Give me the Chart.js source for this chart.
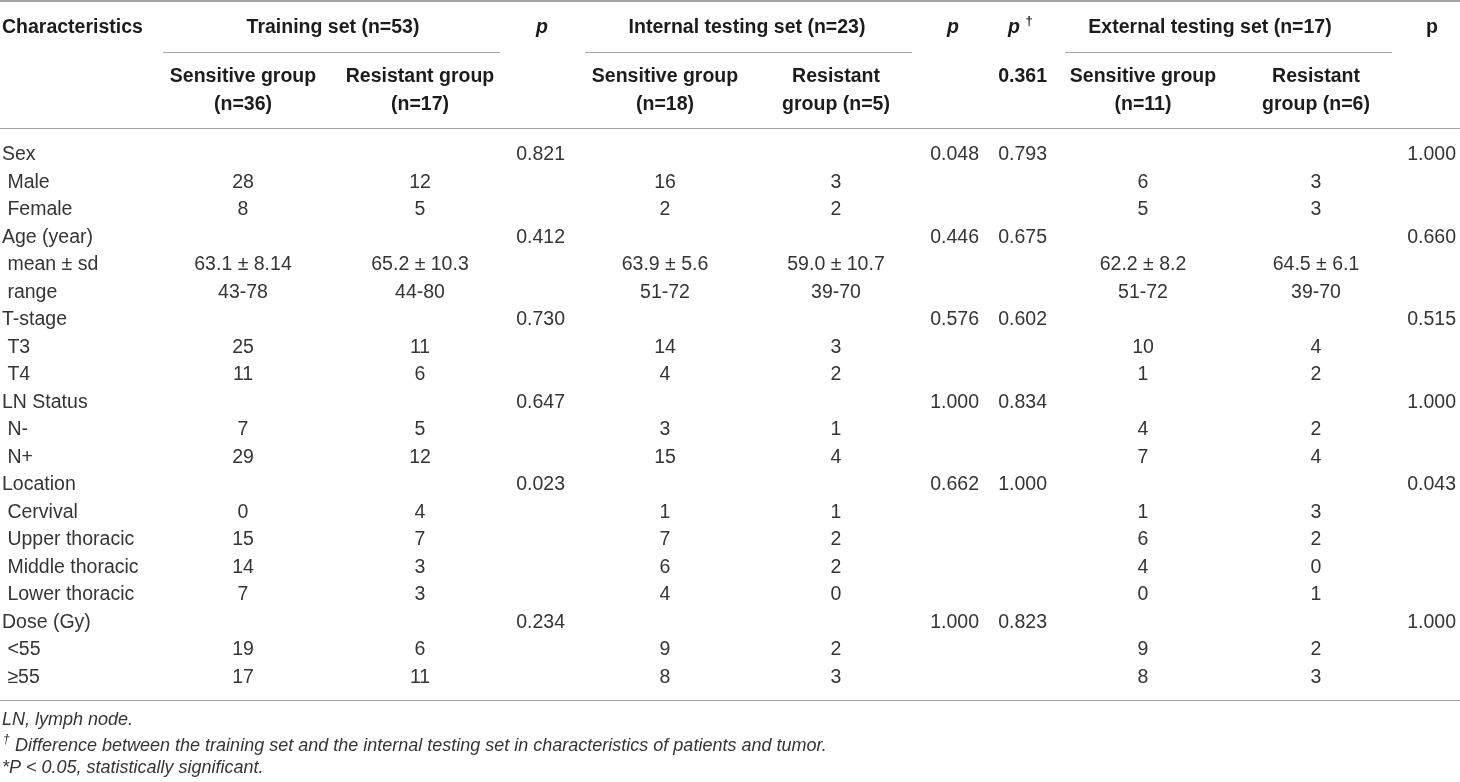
<!DOCTYPE html>
<html>
<head>
<meta charset="utf-8">
<title>Características dos pacientes</title>
<script src="https://cdn.jsdelivr.net/npm/chart.js@4.4.0/dist/chart.umd.min.js"></script>
<style>
  html, body { margin: 0; padding: 0; background: #fff; overflow: hidden; }
  #wrap { width: 1460px; height: 782px; position: relative; }
</style>
</head>
<body>
<div id="wrap"><canvas id="tabela"></canvas></div>
<script>
// linhas da tabela (espaco inicial = subitem)
const rowLabels = ["Sex", " Male", " Female", "Age (year)", " mean ± sd", " range", "T-stage", " T3", " T4",
  "LN Status", " N-", " N+", "Location", " Cervival", " Upper thoracic", " Middle thoracic", " Lower thoracic",
  "Dose (Gy)", " <55", " ≥55"];

const trainSensitive = ["", "28", "8", "", "63.1 ± 8.14", "43-78", "", "25", "11", "", "7", "29", "", "0", "15", "14", "7", "", "19", "17"];
const trainResistant = ["", "12", "5", "", "65.2 ± 10.3", "44-80", "", "11", "6", "", "5", "12", "", "4", "7", "3", "3", "", "6", "11"];
const pTrain = ["0.821", "", "", "0.412", "", "", "0.730", "", "", "0.647", "", "", "0.023", "", "", "", "", "0.234", "", ""];

const internalSensitive = ["", "16", "2", "", "63.9 ± 5.6", "51-72", "", "14", "4", "", "3", "15", "", "1", "7", "6", "4", "", "9", "8"];
const internalResistant = ["", "3", "2", "", "59.0 ± 10.7", "39-70", "", "3", "2", "", "1", "4", "", "1", "2", "2", "0", "", "2", "3"];
const pInternal = ["0.048", "", "", "0.446", "", "", "0.576", "", "", "1.000", "", "", "0.662", "", "", "", "", "1.000", "", ""];
const pTrainVsInternal = ["0.793", "", "", "0.675", "", "", "0.602", "", "", "0.834", "", "", "1.000", "", "", "", "", "0.823", "", ""];

const externalSensitive = ["", "6", "5", "", "62.2 ± 8.2", "51-72", "", "10", "1", "", "4", "7", "", "1", "6", "4", "0", "", "9", "8"];
const externalResistant = ["", "3", "3", "", "64.5 ± 6.1", "39-70", "", "4", "2", "", "2", "4", "", "3", "2", "0", "1", "", "2", "3"];
const pExternal = ["1.000", "", "", "0.660", "", "", "0.515", "", "", "1.000", "", "", "0.043", "", "", "", "", "1.000", "", ""];

const groupTitles = ["Training set (n=53)", "Internal testing set (n=23)", "External testing set (n=17)"];
const subHeaders = [
  ["Sensitive group", "(n=36)"], ["Resistant group", "(n=17)"],
  ["Sensitive group", "(n=18)"], ["Resistant", "group (n=5)"],
  ["Sensitive group", "(n=11)"], ["Resistant", "group (n=6)"]
];
const pOverall = "0.361";
const footnotes = ["LN, lymph node.",
  "Difference between the training set and the internal testing set in characteristics of patients and tumor.",
  "*P < 0.05, statistically significant."];

// layout
const W = 1460, H = 782;
const ROW0 = 155, ROW_H = 27.5;
const FONTE = '"Liberation Sans", Arial, sans-serif';
const COR_TITULO = "#1d1b1c";
const COR_TEXTO = "#363435";
const COR_LINHA = "#a3a5a8";

const colunas = [
  { x: 2, align: "left", valores: rowLabels },
  { x: 243, align: "center", valores: trainSensitive },
  { x: 420, align: "center", valores: trainResistant },
  { x: 565, align: "right", valores: pTrain },
  { x: 665, align: "center", valores: internalSensitive },
  { x: 836, align: "center", valores: internalResistant },
  { x: 979, align: "right", valores: pInternal },
  { x: 1047, align: "right", valores: pTrainVsInternal },
  { x: 1143, align: "center", valores: externalSensitive },
  { x: 1316, align: "center", valores: externalResistant },
  { x: 1456, align: "right", valores: pExternal }
];

// posicoes em unidades de linha (linha 0 = Sex)
const yUnit = px => (px - ROW0) / ROW_H;

const desenhaTabela = {
  id: "desenhaTabela",
  afterDatasetsDraw(chart) {
    const { ctx, scales: { x, y } } = chart;
    ctx.save();
    ctx.textBaseline = "middle";

    // celulas do corpo
    chart.data.datasets.forEach((ds, di) => {
      const meta = chart.getDatasetMeta(di);
      ctx.font = "19.5px " + FONTE;
      ctx.fillStyle = COR_TEXTO;
      ctx.textAlign = ds.alinhamento;
      meta.data.forEach((pt, i) => {
        const txt = ds.textos[i];
        if (txt) ctx.fillText(txt, pt.x, pt.y);
      });
    });

    const texto = (t, xv, yv, font, align) => {
      ctx.font = font;
      ctx.textAlign = align || "center";
      ctx.fillText(t, x.getPixelForValue(xv), y.getPixelForValue(yv));
    };
    const linha = (x0, x1, yv, w) => {
      const py = Math.round(y.getPixelForValue(yv)) + (w % 2 ? 0.5 : 0);
      ctx.beginPath();
      ctx.lineWidth = w;
      ctx.strokeStyle = COR_LINHA;
      ctx.moveTo(x.getPixelForValue(x0), py);
      ctx.lineTo(x.getPixelForValue(x1), py);
      ctx.stroke();
    };

    const bold = "bold 19.5px " + FONTE;
    const boldItalic = "italic bold 19.5px " + FONTE;

    // cabecalho
    ctx.fillStyle = COR_TITULO;
    texto("Characteristics", 2, yUnit(28), bold, "left");
    const grupos = [[333, 163, 500], [747, 585, 912], [1210, 1065, 1392]];
    grupos.forEach((g, i) => {
      texto(groupTitles[i], g[0], yUnit(28), bold);
      linha(g[1], g[2], yUnit(52), 1);
    });
    const centros = [243, 420, 665, 836, 1143, 1316];
    subHeaders.forEach((s, i) => {
      texto(s[0], centros[i], yUnit(77), bold);
      texto(s[1], centros[i], yUnit(105), bold);
    });
    texto("p", 542, yUnit(28), boldItalic);
    texto("p", 953, yUnit(28), boldItalic);
    texto("p", 1014, yUnit(28), boldItalic);
    texto("†", 1029, yUnit(21), "bold 13px " + FONTE);
    texto("p", 1432, yUnit(28), bold);
    texto(pOverall, 1047, yUnit(77), bold, "right");

    // regras
    linha(0, W, yUnit(1), 2);
    linha(0, W, yUnit(128), 1);
    linha(0, W, yUnit(700), 1);

    // notas
    const italico = "italic 18px " + FONTE;
    ctx.fillStyle = COR_TEXTO;
    texto(footnotes[0], 2, yUnit(720), italico, "left");
    texto("†", 3, yUnit(740), "italic 12px " + FONTE, "left");
    texto(footnotes[1], 15, yUnit(746), italico, "left");
    texto(footnotes[2], 2, yUnit(768), italico, "left");

    ctx.restore();
  }
};

new Chart(document.getElementById("tabela"), {
  type: "scatter",
  data: {
    datasets: colunas.map(c => ({
      data: c.valores.map((v, i) => ({ x: c.x, y: i })),
      textos: c.valores,
      alinhamento: c.align,
      pointRadius: 0,
      pointHoverRadius: 0
    }))
  },
  options: {
    responsive: true,
    maintainAspectRatio: false,
    animation: false,
    events: [],
    layout: { padding: 0 },
    plugins: { legend: { display: false }, tooltip: { enabled: false } },
    scales: {
      x: { type: "linear", min: 0, max: W, display: false },
      y: { type: "linear", min: yUnit(0), max: yUnit(H), reverse: true, display: false }
    }
  },
  plugins: [desenhaTabela]
});
</script>
</body>
</html>
